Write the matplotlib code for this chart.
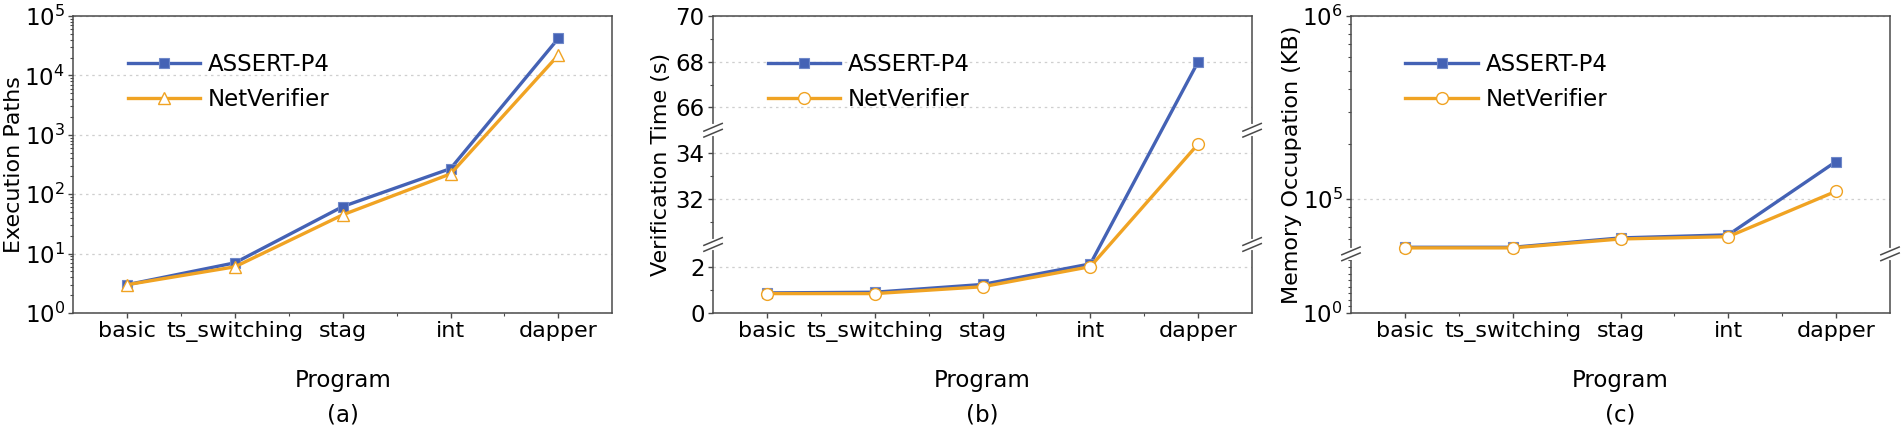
import numpy as np
from matplotlib import pyplot as plt
from matplotlib.ticker import FixedLocator, LogLocator, NullFormatter

programs = ["basic", "ts_switching", "stag", "int", "dapper"]

# (a) execution paths
paths_assert = [3, 7, 62, 270, 42000]
paths_netv = [3, 6, 45, 220, 22000]
# (b) verification time (s)
time_assert = [0.88, 0.91, 1.25, 2.15, 68.0]
time_netv = [0.85, 0.85, 1.15, 2.03, 34.4]
# (c) memory occupation (KB)
mem_assert = [54300, 54300, 61100, 63500, 160000]
mem_netv = [53900, 53900, 60300, 62100, 110000]

blue = '#4462B5'
orange = '#F0A323'
spine_c = '#4a4a4a'

plt.rcParams['font.family'] = ['DejaVu Sans']
plt.rcParams['font.size'] = 16


def piecewise(x, xp, fp):
    x = np.asarray(x, float)
    y = np.interp(x, xp, fp)
    y = np.where(x < xp[0], fp[0] + (x - xp[0]) * (fp[1] - fp[0]) / (xp[1] - xp[0]), y)
    y = np.where(x > xp[-1], fp[-1] + (x - xp[-1]) * (fp[-1] - fp[-2]) / (xp[-1] - xp[-2]), y)
    return y


# broken linear axis for (b): 0-3, 30-35, 65-70
b_x = [0, 3, 30, 35, 65, 70]
b_f = [0, 3, 3.0001, 8, 8.0001, 13]
def fwd_b(y):
    return piecewise(y, b_x, b_f)
def inv_b(z):
    return piecewise(z, b_f, b_x)


# broken axis for (c): 1-10 linear, then log from 5e4 to 1e6
A = 59 / 182.3
EPS = 1e-4
def fwd_c(y):
    y = np.asarray(y, float)
    lin = (y - 1) / 9 * A
    mid = A + (y - 10) / (5e4 - 10) * EPS
    lg = A + EPS + np.log10(np.clip(y, 5e4, None) / 5e4)
    return np.where(y <= 10, lin, np.where(y < 5e4, mid, lg))
def inv_c(z):
    z = np.asarray(z, float)
    lin = 1 + z / A * 9
    mid = 10 + (z - A) / EPS * (5e4 - 10)
    lg = 5e4 * 10 ** (np.clip(z, A + EPS, 50) - A - EPS)
    return np.where(z <= A, lin, np.where(z < A + EPS, mid, lg))


def break_marks(ax, yf):
    # small "//" on both spines at axes fraction yf
    kw = dict(transform=ax.transAxes, clip_on=False, zorder=10)
    for xs in (0, 1):
        ax.plot([xs, xs], [yf - 0.013, yf + 0.013], color='white', lw=3, **kw)
        for off in (-0.010, 0.010):
            ax.plot([xs - 0.017, xs + 0.017], [yf + off - 0.013, yf + off + 0.013],
                    color=spine_c, lw=1.1, **kw)


fig = plt.figure(figsize=(19.02, 4.33), dpi=100)
lefts = [0.0385, 0.3749, 0.7103]
axes = [fig.add_axes([l, 0.2771, 0.2834, 0.6859]) for l in lefts]
x = np.arange(len(programs))

series = [
    (paths_assert, paths_netv, '^', 'Execution Paths', '(a)', -0.1097),
    (time_assert, time_netv, 'o', 'Verification Time (s)', '(b)', -0.097),
    (mem_assert, mem_netv, 'o', 'Memory Occupation (KB)', '(c)', -0.110),
]

for i, ax in enumerate(axes):
    ya, yn, mk, ylab, cap, ylx = series[i]

    if i == 0:
        ax.set_yscale('log')
        ax.set_ylim(1, 1e5)
        ax.yaxis.set_major_locator(LogLocator(base=10, numticks=10))
        ax.yaxis.set_minor_locator(LogLocator(base=10, subs=np.arange(2, 10), numticks=20))
        ax.yaxis.set_minor_formatter(NullFormatter())
    elif i == 1:
        ax.set_yscale('function', functions=(fwd_b, inv_b))
        ax.set_ylim(0, 70)
        ax.set_yticks([0, 2, 32, 34, 66, 68, 70])
        ax.yaxis.set_minor_locator(FixedLocator([1, 31, 33, 67, 69]))
    else:
        ax.set_yscale('function', functions=(fwd_c, inv_c))
        ax.set_ylim(1, 1e6)
        ax.set_yticks([1, 1e5, 1e6], labels=[r'$10^{0}$', r'$10^{5}$', r'$10^{6}$'])
        ax.yaxis.set_minor_locator(FixedLocator(list(range(2, 10)) +
                                                [6e4, 7e4, 8e4, 9e4] +
                                                [k * 1e5 for k in range(2, 10)]))
        ax.yaxis.set_minor_formatter(NullFormatter())

    ax.plot(x, ya, color=blue, lw=2.4, marker='s', ms=7.5, mfc=blue,
            mec='#6f88c9', mew=0.8, label='ASSERT-P4', zorder=3)
    ax.plot(x, yn, color=orange, lw=2.4, marker=mk, ms=9 if mk == '^' else 8.5,
            mfc='white', mec=orange, mew=1.0, label='NetVerifier', zorder=4)

    ax.set_xlim(-0.5, 4.5)
    ax.set_xticks(x, programs)
    ax.xaxis.set_minor_locator(FixedLocator([0.5, 1.5, 2.5, 3.5]))
    ax.grid(True, axis='y', which='major', color='#cfcfcf', lw=0.9, ls=(0, (2, 3)))
    ax.set_axisbelow(True)

    for s in ax.spines.values():
        s.set_color(spine_c)
        s.set_linewidth(1.1)
    ax.tick_params(which='major', direction='out', length=3.5, width=1, color=spine_c,
                   labelsize=16, pad=2.5)
    ax.tick_params(axis='y', which='major', labelsize=16.5)
    ax.tick_params(which='minor', direction='out', length=2, width=0.8, color=spine_c)

    ax.set_ylabel(ylab, fontsize=16, va='center')
    ax.yaxis.set_label_coords(ylx, 0.5)
    ax.set_xlabel('Program', fontsize=16.5, va='center')
    ax.xaxis.set_label_coords(0.5, -0.2256)
    ax.text(0.5, -0.3434, cap, transform=ax.transAxes, ha='center', va='center', fontsize=16.5)

    ax.legend(loc='upper left', bbox_to_anchor=(0.101, 0.877), frameon=False,
              fontsize=16.5, handlelength=3.15, handletextpad=0.35, labelspacing=0.55,
              borderpad=0, borderaxespad=0, numpoints=1)

# break marks
break_marks(axes[1], fwd_b(3) / fwd_b(70))
break_marks(axes[1], fwd_b(35) / fwd_b(70))
break_marks(axes[2], fwd_c(10) / fwd_c(1e6))

plt.savefig('out.png', dpi=100)
